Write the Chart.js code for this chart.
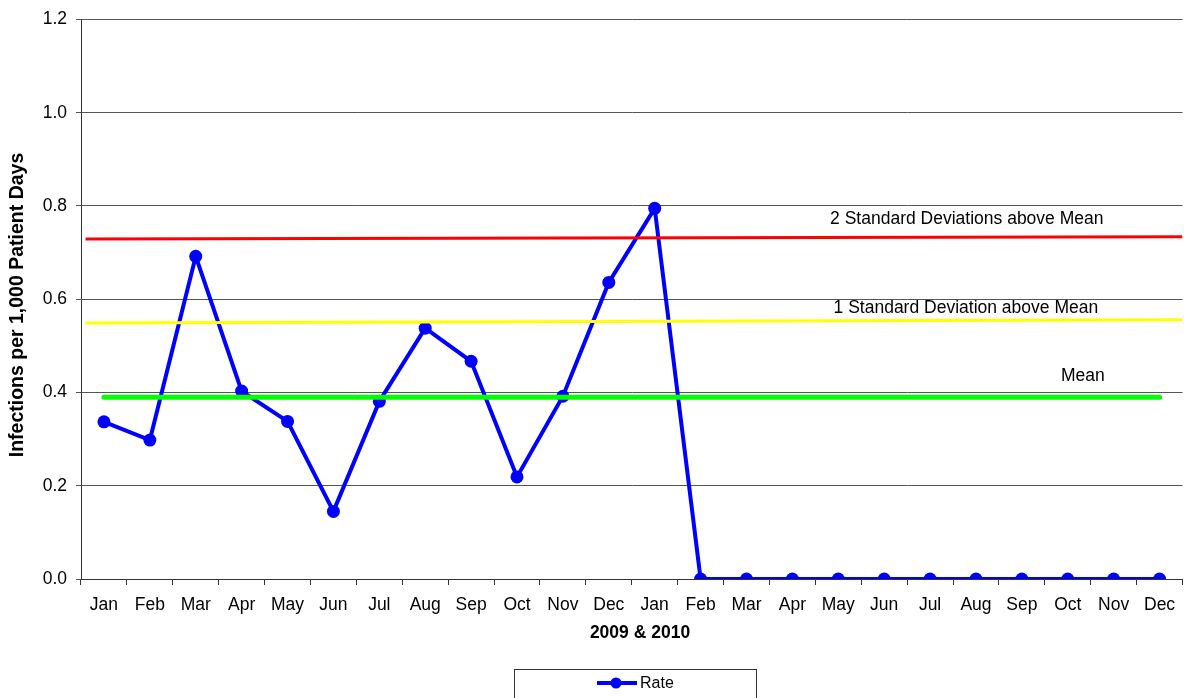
<!DOCTYPE html>
<html>
<head>
<meta charset="utf-8">
<title>Infection rate</title>
<script src="https://cdn.jsdelivr.net/npm/chart.js@4/dist/chart.umd.min.js"></script>
<style>
  html, body { margin: 0; padding: 0; background: #fff; overflow: hidden; }
  #wrap { position: absolute; left: 0; top: 0; width: 1189px; height: 698px; }
</style>
</head>
<body>
<div id="wrap"><canvas id="myChart" width="1189" height="698"></canvas></div>
<script>
const months = ['Jan', 'Feb', 'Mar', 'Apr', 'May', 'Jun', 'Jul', 'Aug', 'Sep', 'Oct', 'Nov', 'Dec',
                'Jan', 'Feb', 'Mar', 'Apr', 'May', 'Jun', 'Jul', 'Aug', 'Sep', 'Oct', 'Nov', 'Dec'];
const rate = [0.337, 0.298, 0.692, 0.403, 0.338, 0.145, 0.381, 0.538, 0.467, 0.219, 0.392, 0.636,
              0.795, 0, 0, 0, 0, 0, 0, 0, 0, 0, 0, 0];
const meanValue = 0.39;
const mean = months.map(() => meanValue);
// limit lines run across the whole plot, slightly rising
const limitX = [-0.4, 23.5];
const sd2 = [0.729, 0.734];
const sd1 = [0.549, 0.556];
const yTicks = [0, 0.2, 0.4, 0.6, 0.8, 1.0, 1.2];

const lineNotes = [
    { text: '2 Standard Deviations above Mean', x: 18.8, y: 0.771 },
    { text: '1 Standard Deviation above Mean', x: 18.78, y: 0.580 },
    { text: 'Mean', x: 21.33, y: 0.434 }
];

const FONT = '"Liberation Sans", Arial, sans-serif';

const extras = {
    id: 'extras',
    afterDatasetsDraw(chart) {
        const ctx = chart.ctx;
        const x2 = chart.scales.x2, y = chart.scales.y;
        ctx.save();
        ctx.fillStyle = '#000';
        ctx.font = '17.5px ' + FONT;
        ctx.textAlign = 'center';
        ctx.textBaseline = 'middle';
        lineNotes.forEach(n => ctx.fillText(n.text, x2.getPixelForValue(n.x), y.getPixelForValue(n.y)));

        // axis titles
        ctx.font = 'bold 17.5px ' + FONT;
        ctx.fillText('2009 & 2010', 640, 633);
        ctx.save();
        ctx.translate(18, 305);
        ctx.rotate(-Math.PI / 2);
        ctx.font = 'bold 19.5px ' + FONT;
        ctx.fillText('Infections per 1,000 Patient Days', 0, 0);
        ctx.restore();

        // legend box
        ctx.strokeStyle = '#333';
        ctx.lineWidth = 1;
        ctx.strokeRect(514.5, 669.5, 242, 40);
        ctx.strokeStyle = '#0000ff';
        ctx.lineWidth = 4;
        ctx.beginPath();
        ctx.moveTo(597, 683);
        ctx.lineTo(637, 683);
        ctx.stroke();
        ctx.fillStyle = '#0000ff';
        ctx.beginPath();
        ctx.arc(616, 683, 5.5, 0, Math.PI * 2);
        ctx.fill();
        ctx.fillStyle = '#000';
        ctx.font = '16px ' + FONT;
        ctx.textAlign = 'left';
        ctx.fillText('Rate', 640, 684);
        ctx.restore();
    }
};

const ctx = document.getElementById('myChart').getContext('2d');
const chart = new Chart(ctx, {
    type: 'line',
    data: {
        labels: months,
        datasets: [
            {
                label: 'Rate',
                data: rate,
                borderColor: '#0000ff',
                backgroundColor: '#0000ff',
                borderWidth: 4,
                pointRadius: 6.5,
                pointBorderWidth: 0,
                tension: 0,
                order: 4
            },
            {
                label: 'Mean',
                data: mean,
                borderColor: '#00ff00',
                borderWidth: 5,
                borderCapStyle: 'round',
                pointRadius: 0,
                order: 1
            },
            {
                label: '1 SD',
                data: limitX.map((x, i) => ({ x: x, y: sd1[i] })),
                xAxisID: 'x2',
                borderColor: '#ffff00',
                borderWidth: 3,
                pointRadius: 0,
                order: 2
            },
            {
                label: '2 SD',
                data: limitX.map((x, i) => ({ x: x, y: sd2[i] })),
                xAxisID: 'x2',
                borderColor: '#ff0000',
                borderWidth: 3,
                pointRadius: 0,
                order: 3
            }
        ]
    },
    options: {
        responsive: false,
        animation: false,
        devicePixelRatio: 1,
        layout: { padding: { top: 19, left: 0, right: 0, bottom: 53 } },
        plugins: {
            legend: { display: false },
            tooltip: { enabled: false }
        },
        scales: {
            x: {
                type: 'category',
                offset: true,
                grid: { offset: true, drawOnChartArea: false, tickLength: 6, color: '#333' },
                border: { color: '#333' },
                ticks: {
                    font: { family: FONT, size: 17.5 },
                    color: '#000',
                    padding: 10,
                    maxRotation: 0,
                    autoSkip: false
                },
                afterFit: s => { s.height = 66; }
            },
            x2: {
                type: 'linear',
                display: false,
                min: -0.5,
                max: 23.5
            },
            y: {
                min: 0,
                max: 1.2,
                afterBuildTicks: s => { s.ticks = yTicks.map(v => ({ value: v })); },
                ticks: {
                    font: { family: FONT, size: 17.5 },
                    color: '#000',
                    padding: 9,
                    callback: v => v.toFixed(1)
                },
                grid: { color: '#555', tickLength: 5 },
                border: { color: '#333' },
                afterFit: s => { s.width = 81; }
            }
        }
    },
    plugins: [extras]
});
</script>
</body>
</html>
